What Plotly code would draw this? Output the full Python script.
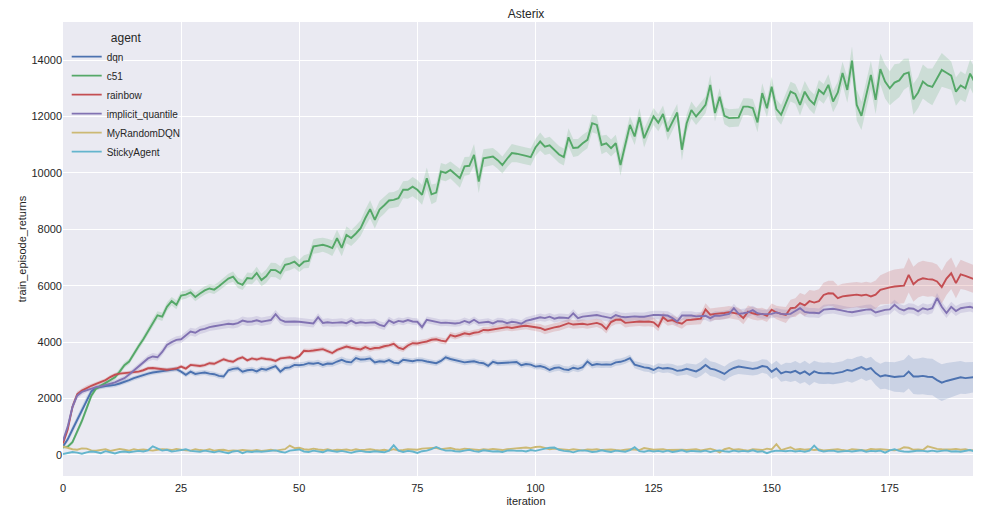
import plotly.graph_objects as go

agents = ["dqn", "c51", "rainbow", "implicit_quantile", "MyRandomDQN", "StickyAgent"]
colors = ["#4c72b0", "#55a868", "#c44e52", "#8172b2", "#ccb974", "#64b5cd"]
x_ticks = [0, 25, 50, 75, 100, 125, 150, 175]
y_ticks = [0, 2000, 4000, 6000, 8000, 10000, 12000, 14000]

dqn = [
    300, 550, 900, 1250, 1600, 1950, 2250, 2380, 2420, 2440,
    2460, 2480, 2530, 2580, 2650, 2720, 2780, 2840, 2880, 2920,
    2940, 2960, 3000, 3020, 3040, 2950, 2840, 2950, 2870, 2900,
    2920, 2880, 2860, 2800, 2780, 3000, 3050, 3070, 2950, 3000,
    3020, 2960, 3050, 3020, 3080, 3150, 2950, 3080, 3100, 3190,
    3180, 3200, 3250, 3230, 3260, 3190, 3240, 3230, 3310, 3370,
    3300, 3280, 3430, 3380, 3390, 3420, 3280, 3320, 3300, 3360,
    3270, 3250, 3370, 3340, 3320, 3360, 3350, 3310, 3280, 3250,
    3330, 3460, 3400, 3360, 3320, 3280, 3300, 3320, 3270, 3250,
    3160, 3300, 3250, 3260, 3250, 3280, 3290, 3180, 3220, 3200,
    3130, 3150, 3100, 3010, 3080, 3100, 3030, 3010, 3090, 3050,
    3110, 3310, 3180, 3220, 3200, 3210, 3200, 3280, 3300, 3350,
    3430, 3200, 3150, 3100, 3080, 3010, 3100, 3060, 3080, 3050,
    2980, 3000, 3050, 3000, 2960, 3050, 3190, 3060, 3020, 2950,
    2870, 3000, 3080, 3130, 3100, 3060, 3050, 3080, 3150, 3120,
    2950, 3060, 2890, 2950, 2920, 2980, 2880, 2960, 2840, 2960,
    2900, 2890, 2900, 2880, 2900, 2940, 3010, 2980, 3050, 3110,
    3020, 3080, 2900, 2780, 2820, 2800, 2760, 2780, 2790, 2950,
    2780, 2780, 2800, 2770, 2760, 2650, 2560, 2620, 2660, 2700,
    2750, 2720, 2740, 2760, 2720, 2700, 2690,
]
dqn_ci = [
    60, 100, 130, 150, 150, 130, 100, 80, 80, 80,
    80, 80, 80, 80, 80, 80, 80, 80, 80, 80,
    80, 80, 80, 80, 80, 80, 90, 90, 90, 90,
    90, 90, 90, 90, 90, 100, 100, 100, 100, 100,
    100, 100, 100, 100, 100, 100, 100, 100, 100, 100,
    100, 100, 100, 110, 110, 110, 110, 110, 120, 120,
    120, 120, 120, 110, 110, 110, 100, 100, 100, 100,
    100, 100, 100, 100, 100, 100, 100, 100, 100, 100,
    100, 100, 100, 100, 100, 100, 100, 100, 100, 100,
    100, 100, 100, 100, 100, 100, 100, 100, 100, 100,
    100, 110, 110, 110, 120, 120, 120, 120, 120, 120,
    120, 120, 120, 120, 120, 120, 120, 120, 120, 120,
    120, 130, 130, 140, 140, 150, 150, 160, 160, 170,
    180, 180, 200, 220, 240, 250, 260, 260, 260, 260,
    260, 260, 260, 260, 250, 250, 240, 240, 240, 250,
    260, 280, 300, 320, 340, 350, 360, 380, 380, 380,
    380, 380, 380, 380, 380, 380, 400, 420, 420, 400,
    400, 400, 420, 450, 480, 500, 520, 550, 580, 600,
    620, 640, 650, 650, 650, 650, 650, 640, 620, 600,
    580, 560, 550, 540, 520, 520, 520,
]

c51 = [
    270, 290, 450, 800, 1200, 1650, 2100, 2350, 2450, 2520,
    2620, 2750, 2950, 3180, 3310, 3600, 3850, 4100, 4400, 4700,
    4950, 4900, 5250, 5450, 5320, 5650, 5680, 5760, 5600, 5720,
    5830, 5900, 5860, 5980, 6110, 6250, 6320, 6100, 6030, 6270,
    6250, 6450, 6200, 6330, 6560, 6550, 6440, 6740, 6780, 6850,
    6700, 6850, 6880, 7390, 7420, 7450, 7400, 7330, 7680, 7340,
    7800, 7690, 7850, 8040, 8400, 8710, 8330, 8700, 8850, 9020,
    9040, 9100, 9400, 9400, 9510, 9400, 9220, 9810, 9240, 9300,
    10050, 10000, 10100, 9950, 9810, 10230, 10250, 10640, 9690, 10520,
    10550, 10580, 10450, 10280, 10500, 10700, 10680, 10650, 10600, 10560,
    10900, 11110, 10930, 10980, 10800, 10650, 10560, 11260, 10880, 10900,
    11050, 11170, 11760, 11700, 10990, 11050, 10880, 11050, 10280, 11050,
    11700, 11290, 11970, 11230, 11650, 12000, 11780, 12090, 11470, 11800,
    12140, 10820, 11750, 12230, 12000, 12200, 12410, 13120, 12120, 12700,
    12020, 11940, 11940, 11960, 12350, 12350, 12300, 11790, 12830, 12290,
    13060, 12260, 12060, 12500, 12880, 12800, 12410, 12880, 12600, 12430,
    12940, 12800, 13120, 12530, 12850, 13540, 12940, 13980, 12410, 12020,
    12700, 13470, 12590, 13680, 13240, 13000, 13200, 13280, 13500, 13560,
    12610, 12850, 13240, 13100, 13050, 13350, 13650, 13550, 13450, 12880,
    13100, 13000, 13520, 13200, 13350, 13500, 13650,
]
c51_ci = [
    60, 60, 80, 100, 120, 120, 100, 80, 80, 80,
    80, 90, 100, 100, 100, 110, 120, 120, 130, 130,
    140, 150, 150, 150, 160, 150, 140, 140, 150, 150,
    150, 150, 160, 160, 170, 170, 180, 180, 180, 200,
    200, 220, 220, 240, 250, 250, 250, 240, 230, 220,
    220, 230, 250, 260, 260, 250, 260, 280, 300, 300,
    300, 280, 280, 280, 300, 320, 300, 300, 300, 280,
    280, 300, 300, 320, 340, 350, 350, 380, 350, 320,
    300, 300, 300, 320, 340, 330, 320, 380, 400, 320,
    300, 300, 300, 300, 300, 320, 300, 300, 300, 300,
    300, 320, 300, 300, 300, 300, 300, 320, 320, 300,
    300, 300, 320, 320, 330, 300, 300, 300, 380, 320,
    320, 300, 320, 330, 300, 300, 300, 300, 320, 300,
    300, 380, 320, 300, 300, 300, 300, 350, 300, 300,
    300, 320, 320, 320, 300, 300, 320, 350, 350, 320,
    350, 350, 350, 350, 350, 350, 380, 380, 350, 350,
    350, 350, 380, 380, 380, 400, 450, 500, 550, 500,
    500, 500, 500, 550, 600, 600, 650, 600, 550, 500,
    550, 550, 600, 600, 650, 650, 600, 550, 500, 500,
    500, 500, 500, 520, 520, 500, 500,
]

rainbow = [
    400, 900, 1700, 2150, 2280, 2380, 2450, 2520, 2580, 2650,
    2760, 2840, 2880, 2900, 2920, 2920, 2950, 3000, 3070, 3080,
    3060, 3050, 3020, 3040, 3060, 3130, 3060, 3190, 3160, 3150,
    3180, 3250, 3230, 3300, 3390, 3330, 3300, 3400, 3460, 3350,
    3420, 3380, 3430, 3400, 3380, 3330, 3420, 3440, 3460, 3420,
    3500, 3690, 3680, 3700, 3720, 3750, 3680, 3610, 3720, 3790,
    3840, 3800, 3760, 3740, 3820, 3750, 3790, 3800, 3850, 3880,
    3940, 3800, 3750, 3880, 3960, 3950, 3990, 4020, 4080, 4100,
    4050, 4020, 4250, 4200, 4250, 4310, 4280, 4330, 4350, 4430,
    4420, 4450, 4470, 4500, 4530, 4500, 4540, 4560, 4580, 4550,
    4520, 4500, 4430, 4480, 4520, 4550, 4600, 4670, 4620, 4640,
    4650, 4620, 4660, 4680, 4620, 4460, 4710, 4790, 4800, 4680,
    4700, 4720, 4730, 4720, 4730, 4700, 4550, 4880, 4750, 4780,
    4700, 4650, 4780, 4790, 4800, 4830, 5160, 4970, 5000, 5010,
    5030, 5060, 5020, 5000, 4850, 5080, 5020, 4980, 5000, 4930,
    5150, 5050, 5000, 4960, 5200, 5220, 5380, 5300, 5450, 5400,
    5450, 5670, 5730, 5720, 5560, 5620, 5640, 5660, 5680, 5650,
    5680, 5620, 5680, 5850, 5900, 5940, 5970, 5980, 6000, 6380,
    6050, 6200, 6260, 6230, 6220, 6150, 5950, 6250, 6440, 6090,
    6400, 6350, 6280, 6220, 6180, 6300, 6110,
]
rainbow_ci = [
    60, 100, 120, 100, 80, 80, 70, 70, 70, 70,
    70, 70, 70, 70, 70, 70, 70, 70, 70, 70,
    70, 70, 70, 70, 70, 70, 70, 70, 70, 70,
    70, 70, 70, 70, 70, 70, 70, 70, 70, 70,
    70, 70, 70, 70, 70, 70, 70, 70, 70, 70,
    80, 80, 80, 80, 80, 80, 80, 80, 80, 80,
    90, 90, 90, 90, 90, 90, 90, 90, 90, 90,
    100, 100, 100, 100, 100, 100, 100, 100, 100, 100,
    110, 110, 110, 110, 110, 110, 110, 110, 110, 110,
    120, 120, 120, 120, 120, 120, 130, 130, 130, 130,
    140, 140, 150, 150, 150, 150, 150, 150, 150, 150,
    150, 150, 150, 150, 160, 160, 160, 160, 160, 160,
    160, 160, 160, 170, 170, 170, 170, 170, 170, 170,
    170, 180, 180, 180, 180, 200, 220, 220, 220, 220,
    220, 220, 220, 220, 220, 220, 220, 220, 220, 220,
    220, 240, 260, 280, 300, 330, 360, 380, 400, 420,
    420, 430, 440, 450, 450, 450, 450, 450, 450, 450,
    460, 480, 500, 520, 550, 580, 600, 620, 620, 620,
    620, 620, 620, 620, 600, 600, 580, 580, 560, 540,
    520, 500, 500, 500, 500, 500, 500,
]

implicit_quantile = [
    500, 1000, 1700, 2100, 2230, 2290, 2330, 2400, 2430, 2470,
    2510, 2570, 2650, 2720, 2850, 3000, 3120, 3300, 3420, 3490,
    3460, 3650, 3900, 4000, 4080, 4100, 4230, 4370, 4330, 4430,
    4470, 4530, 4560, 4580, 4620, 4650, 4630, 4670, 4760, 4720,
    4730, 4770, 4720, 4750, 4780, 4990, 4790, 4720, 4730, 4730,
    4720, 4700, 4680, 4660, 4880, 4680, 4700, 4680, 4690, 4700,
    4670, 4760, 4670, 4700, 4680, 4690, 4700, 4610, 4560, 4770,
    4680, 4750, 4720, 4780, 4730, 4720, 4530, 4790, 4750, 4720,
    4680, 4690, 4670, 4660, 4680, 4750, 4690, 4790, 4680, 4700,
    4720, 4660, 4740, 4730, 4670, 4720, 4700, 4650, 4750, 4790,
    4830, 4880, 4850, 4900, 4830, 4870, 4860, 4850, 5020, 4850,
    4900, 4920, 4930, 4960, 4920, 4880, 4850, 4960, 4900, 4880,
    4900, 4910, 4900, 4900, 4930, 4960, 4960, 4960, 4940, 4850,
    4730, 4940, 4940, 4940, 4910, 4920, 4930, 4850, 4940, 4930,
    4960, 5000, 5200, 5000, 5020, 5050, 5130, 5020, 4990, 5000,
    5000, 5050, 5000, 4990, 5000, 5100, 5200, 5070, 5040, 5040,
    5020, 5150, 5170, 5180, 5150, 5110, 5080, 5060, 5100, 5120,
    5150, 5160, 5050, 5100, 5140, 5160, 5320, 5180, 5120, 5200,
    5180, 5090, 5200, 5150, 5200, 5560, 5250, 5030, 5250, 5100,
    5200, 5230, 5250, 5200, 5300, 5200, 5260,
]
implicit_quantile_ci = [
    60, 100, 140, 120, 100, 80, 80, 80, 80, 80,
    80, 80, 90, 90, 100, 100, 110, 110, 110, 120,
    120, 120, 130, 130, 130, 130, 140, 140, 140, 140,
    140, 140, 140, 140, 150, 150, 150, 150, 150, 150,
    150, 150, 150, 150, 150, 150, 150, 150, 150, 150,
    140, 140, 140, 140, 140, 140, 140, 140, 140, 140,
    130, 130, 130, 130, 130, 130, 130, 130, 130, 130,
    120, 120, 120, 120, 120, 120, 120, 120, 120, 120,
    120, 120, 120, 120, 120, 120, 120, 120, 120, 120,
    120, 120, 120, 120, 120, 120, 120, 120, 130, 130,
    130, 130, 130, 130, 140, 140, 140, 140, 140, 140,
    140, 140, 150, 150, 150, 150, 150, 150, 150, 150,
    150, 150, 150, 150, 150, 150, 150, 150, 150, 150,
    150, 150, 150, 150, 150, 150, 150, 150, 150, 150,
    150, 150, 160, 160, 160, 160, 160, 160, 160, 160,
    160, 160, 160, 160, 160, 160, 170, 170, 170, 170,
    170, 170, 170, 170, 170, 170, 170, 170, 170, 170,
    170, 170, 170, 170, 170, 180, 180, 180, 180, 180,
    180, 180, 180, 180, 180, 180, 180, 180, 180, 180,
    170, 170, 170, 170, 170, 170, 170,
]

my_random_dqn = [
    300, 250, 200, 180, 230, 220, 160, 150, 180, 200, 140, 170, 210, 180, 150, 200, 170, 190, 160, 150,
    180, 200, 190, 170, 210, 180, 160, 150, 200, 170, 160, 200, 150, 170, 180, 140, 160, 150, 170, 160,
    150, 170, 140, 160, 180, 150, 170, 200, 330, 240, 250, 200, 180, 220, 190, 170, 200, 160, 180, 170,
    190, 160, 200, 170, 180, 200, 170, 160, 180, 150, 200, 160, 170, 200, 190, 180, 220, 230, 260, 250,
    200, 230, 240, 200, 180, 220, 200, 190, 170, 200, 180, 210, 190, 170, 200, 220, 230, 250, 260, 240,
    280, 290, 250, 200, 220, 200, 190, 170, 200, 180, 160, 190, 180, 200, 170, 180, 190, 170, 160, 180,
    200, 190, 170, 240, 200, 180, 190, 200, 170, 180, 190, 180, 170, 180, 200, 160, 180, 220, 170, 90,
    200, 240, 180, 200, 170, 150, 200, 180, 170, 220, 190, 380, 170, 220, 270, 180, 210, 180, 200, 170,
    190, 160, 180, 190, 200, 170, 150, 200, 180, 170, 160, 210, 190, 200, 180, 170, 160, 190, 270, 250,
    180, 190, 170, 300, 250, 210, 200, 190, 190, 210, 180, 200, 160, 170, 150, 180, 220,
]
sticky_agent = [
    30, 60, 100, 80, 40, 90, 120, 100, 60, 130, 80, 50, 100, 120, 90, 110, 140, 120, 160, 300,
    220, 150, 180, 120, 140, 170, 200, 140, 130, 110, 150, 120, 90, 130, 100, 60, 120, 140, 60, 120,
    100, 130, 110, 120, 140, 160, 110, 80, 150, 160, 190, 120, 100, 150, 120, 90, 160, 130, 110, 140,
    100, 70, 120, 140, 110, 100, 130, 120, 90, 150, 340, 150, 100, 140, 120, 70, 130, 150, 200, 280,
    200, 150, 160, 130, 120, 150, 180, 130, 110, 160, 140, 120, 130, 100, 150, 160, 140, 150, 120, 170,
    140, 190, 220, 250, 260, 180, 140, 130, 90, 140, 160, 140, 100, 120, 160, 130, 100, 150, 120, 110,
    170, 270, 130, 110, 150, 120, 140, 110, 150, 100, 130, 160, 110, 140, 130, 120, 150, 100, 140, 160,
    130, 110, 150, 120, 140, 120, 160, 110, 130, 60, 120, 150, 140, 130, 150, 120, 140, 110, 150, 330,
    160, 120, 140, 150, 110, 130, 140, 120, 150, 160, 110, 140, 130, 150, 80, 160, 200, 140, 120, 110,
    130, 150, 140, 120, 150, 120, 140, 160, 120, 130, 110, 150, 170, 120, 110, 80, 150,
]

series = [dqn, c51, rainbow, implicit_quantile, my_random_dqn, sticky_agent]
bands = [dqn_ci, c51_ci, rainbow_ci, implicit_quantile_ci, None, None]


def rgba(hex_color, a):
    h = hex_color.lstrip("#")
    return "rgba(%d,%d,%d,%s)" % (int(h[0:2], 16), int(h[2:4], 16), int(h[4:6], 16), a)


fig = go.Figure()

# confidence bands
for name, col, ys, ci in zip(agents, colors, series, bands):
    if ci is None:
        continue
    n = min(len(ys), len(ci))
    xs = list(range(n))
    lo = [ys[i] - ci[i] for i in range(n)]
    hi = [ys[i] + ci[i] for i in range(n)]
    fig.add_trace(go.Scatter(x=xs, y=lo, mode="lines", line=dict(width=0),
                             showlegend=False, hoverinfo="skip"))
    fig.add_trace(go.Scatter(x=xs, y=hi, mode="lines", line=dict(width=0),
                             fill="tonexty", fillcolor=rgba(col, 0.2),
                             showlegend=False, hoverinfo="skip"))

# mean lines
for name, col, ys in zip(agents, colors, series):
    fig.add_trace(go.Scatter(x=list(range(len(ys))), y=ys, mode="lines", name=name,
                             line=dict(color=col, width=1.9)))

font_family = "Liberation Sans, Arial, sans-serif"
fig.update_layout(
    width=981, height=508,
    margin=dict(l=55, r=0, t=14, b=40),
    paper_bgcolor="white",
    plot_bgcolor="#eaeaf2",
    font=dict(family=font_family, size=11, color="#262626"),
    title=dict(text="Asterix", xref="paper", x=0.5, xanchor="center", y=0.996, yanchor="top",
               font=dict(size=12, color="#262626")),
    legend=dict(
        x=0.004, y=0.99, xanchor="left", yanchor="top",
        traceorder="normal",
        bgcolor="rgba(0,0,0,0)",
        font=dict(size=10, color="#262626"),
        title=dict(text="agent", side="top center", font=dict(size=12)),
        itemwidth=30,
        tracegroupgap=0,
    ),
    xaxis=dict(
        range=[0, 196], tickvals=x_ticks, showgrid=True, gridcolor="white", gridwidth=1,
        zeroline=False, showline=False, ticks="", tickfont=dict(size=11),
        ticklabelstandoff=4,
        title=dict(text="iteration", font=dict(size=11), standoff=4),
        automargin=False,
    ),
    yaxis=dict(
        range=[-750, 15350], tickvals=y_ticks, tickformat="d", showgrid=True,
        gridcolor="white", gridwidth=1, zeroline=False, showline=False, ticks="",
        tickfont=dict(size=11),
        title=dict(text="train_episode_returns", font=dict(size=11), standoff=2),
        automargin=False,
    ),
)

fig.write_html("out.html")
